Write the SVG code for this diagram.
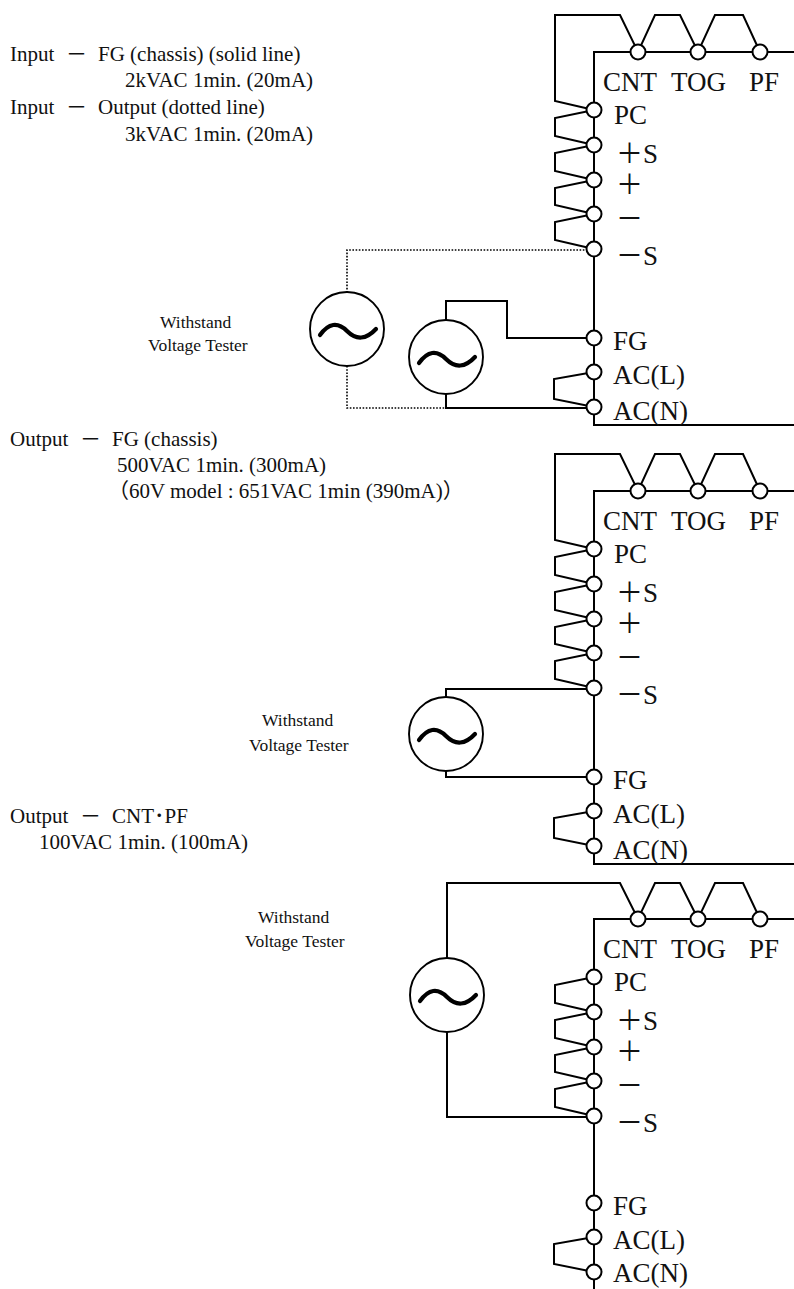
<svg xmlns="http://www.w3.org/2000/svg" width="794" height="1289" viewBox="0 0 794 1289">
<style>
.w{fill:none;stroke:#000;stroke-width:2;stroke-linejoin:miter}
.d{fill:none;stroke:#000;stroke-width:1.6;stroke-dasharray:1.6 1.6}
.t{fill:#fff;stroke:#000;stroke-width:2}
.src{fill:#fff;stroke:#000;stroke-width:1.9}
.tl{fill:none;stroke:#000;stroke-width:4.2;stroke-linecap:round}
.lb{font-family:"Liberation Serif","Noto Sans CJK JP",serif;font-size:27px;fill:#111}
.tx{font-family:"Liberation Serif","Noto Sans CJK JP",serif;font-size:21px;fill:#111}
.sm{font-family:"Liberation Serif",serif;font-size:17.5px;fill:#111}
</style>
<defs>
<path id="tilde" d="M-27,6 Q-14,-12 0,2 T29,0"/>
<g id="term"><circle r="7.5" class="t"/></g>
</defs>

<g id="notes">
<text class="tx" x="10" y="61">Input</text><text class="tx" x="66" y="61">－</text><text class="tx" x="98" y="61">FG (chassis) (solid line)</text>
<text class="tx" x="125" y="87">2kVAC 1min. (20mA)</text>
<text class="tx" x="10" y="114">Input</text><text class="tx" x="66" y="114">－</text><text class="tx" x="98" y="114">Output (dotted line)</text>
<text class="tx" x="125" y="141">3kVAC 1min. (20mA)</text>
<text class="tx" x="10" y="446">Output</text><text class="tx" x="80" y="446">－</text><text class="tx" x="112" y="446">FG (chassis)</text>
<text class="tx" x="117" y="472">500VAC 1min. (300mA)</text>
<text class="tx" x="108" y="498">（60V model : 651VAC 1min (390mA)）</text>
<text class="tx" x="10" y="823">Output</text><text class="tx" x="80" y="823">－</text><text class="tx" x="112" y="823">CNT･PF</text>
<text class="tx" x="39" y="849">100VAC 1min. (100mA)</text>
</g>

<!-- Panel 1 -->
<g id="panel1">
<g id="connectors1">
<path class="w" d="M794,52 H594 V425 H794"/>
<path class="w" d="M760,52 L743,15 H715 L698,52 L680,15 H655 L638,52 L620,15 H555 V101 L594,110 L555,118 V136 L594,145 L555,153 V171 L594,180 L555,188 V205 L594,214 L555,222 V240 L594,249"/>
<path class="w" d="M594,372 L554,379 V399 L594,407"/>
<path class="w" d="M446,320 V301 H507 V338 H594 M446,394 V408 H594"/>
<path class="d" d="M594,250 H347 V292 M347,366 V408 H446"/>
</g>
<g id="p1-terminals">
<use href="#term" x="638" y="52"/><use href="#term" x="698" y="52"/><use href="#term" x="760" y="52"/>
<use href="#term" x="594" y="110"/><use href="#term" x="594" y="145"/><use href="#term" x="594" y="180"/><use href="#term" x="594" y="214"/><use href="#term" x="594" y="249"/>
<use href="#term" x="594" y="338"/><use href="#term" x="594" y="372"/><use href="#term" x="594" y="407"/>
</g>
<g id="p1-labels">
<text class="lb" x="603" y="91">CNT</text><text class="lb" x="671" y="91">TOG</text><text class="lb" x="749" y="91">PF</text>
<text class="lb" x="614" y="124">PC</text>
<text class="lb" x="616" y="163">＋S</text>
<text class="lb" x="616" y="194">＋</text>
<text class="lb" x="616" y="228">－</text>
<text class="lb" x="616" y="265">－S</text>
<text class="lb" x="613" y="350">FG</text>
<text class="lb" x="613" y="384">AC(L)</text>
<text class="lb" x="613" y="420">AC(N)</text>
</g>
<g id="p1-tester-io">
<circle class="src" cx="347" cy="329" r="37"/><use href="#tilde" class="tl" x="347" y="329"/>
</g>
<g id="p1-tester-fg">
<circle class="src" cx="446" cy="357" r="37"/><use href="#tilde" class="tl" x="446" y="357"/>
</g>
<text class="sm" x="160" y="328">Withstand</text>
<text class="sm" x="148" y="351">Voltage Tester</text>
</g>

<!-- Panel 2 -->
<g id="panel2" transform="translate(0,439)">
<g id="connectors2">
<path class="w" d="M794,52 H594 V425 H794"/>
<path class="w" d="M760,52 L743,15 H715 L698,52 L680,15 H655 L638,52 L620,15 H555 V101 L594,110 L555,118 V136 L594,145 L555,153 V171 L594,180 L555,188 V205 L594,214 L555,222 V240 L594,249"/>
<path class="w" d="M594,372 L554,379 V399 L594,407"/>
<path class="w" d="M594,250 H446 V258 M446,332 V338 H594"/>
</g>
<g id="p2-terminals">
<use href="#term" x="638" y="52"/><use href="#term" x="698" y="52"/><use href="#term" x="760" y="52"/>
<use href="#term" x="594" y="110"/><use href="#term" x="594" y="145"/><use href="#term" x="594" y="180"/><use href="#term" x="594" y="214"/><use href="#term" x="594" y="249"/>
<use href="#term" x="594" y="338"/><use href="#term" x="594" y="372"/><use href="#term" x="594" y="407"/>
</g>
<g id="p2-labels">
<text class="lb" x="603" y="91">CNT</text><text class="lb" x="671" y="91">TOG</text><text class="lb" x="749" y="91">PF</text>
<text class="lb" x="614" y="124">PC</text>
<text class="lb" x="616" y="163">＋S</text>
<text class="lb" x="616" y="194">＋</text>
<text class="lb" x="616" y="228">－</text>
<text class="lb" x="616" y="265">－S</text>
<text class="lb" x="613" y="350">FG</text>
<text class="lb" x="613" y="384">AC(L)</text>
<text class="lb" x="613" y="420">AC(N)</text>
</g>
<g id="p2-tester">
<circle class="src" cx="446" cy="295" r="37"/><use href="#tilde" class="tl" x="446" y="295"/>
</g>
<text class="sm" x="262" y="287">Withstand</text>
<text class="sm" x="249" y="312">Voltage Tester</text>
</g>

<!-- Panel 3 -->
<g id="panel3" transform="translate(0,867)">
<g id="connectors3">
<path class="w" d="M794,52 H594 V430"/>
<path class="w" d="M760,52 L743,16 H715 L698,52 L680,16 H655 L638,52 L620,16 H447 V91"/>
<path class="w" d="M594,110 L555,118 V136 L594,145 L555,153 V171 L594,180 L555,188 V205 L594,214 L555,222 V240 L594,249"/>
<path class="w" d="M594,370 L554,377 V397 L594,405"/>
<path class="w" d="M447,165 V250 H594"/>
</g>
<g id="p3-terminals">
<use href="#term" x="638" y="52"/><use href="#term" x="698" y="52"/><use href="#term" x="760" y="52"/>
<use href="#term" x="594" y="110"/><use href="#term" x="594" y="145"/><use href="#term" x="594" y="180"/><use href="#term" x="594" y="214"/><use href="#term" x="594" y="249"/>
<use href="#term" x="594" y="336"/><use href="#term" x="594" y="370"/><use href="#term" x="594" y="405"/>
</g>
<g id="p3-labels">
<text class="lb" x="603" y="91">CNT</text><text class="lb" x="671" y="91">TOG</text><text class="lb" x="749" y="91">PF</text>
<text class="lb" x="614" y="124">PC</text>
<text class="lb" x="616" y="163">＋S</text>
<text class="lb" x="616" y="194">＋</text>
<text class="lb" x="616" y="228">－</text>
<text class="lb" x="616" y="265">－S</text>
<text class="lb" x="613" y="348">FG</text>
<text class="lb" x="613" y="382">AC(L)</text>
<text class="lb" x="613" y="415">AC(N)</text>
</g>
<g id="p3-tester">
<circle class="src" cx="447" cy="128" r="37"/><use href="#tilde" class="tl" x="447" y="128"/>
</g>
<text class="sm" x="258" y="56">Withstand</text>
<text class="sm" x="245" y="80">Voltage Tester</text>
</g>
</svg>
